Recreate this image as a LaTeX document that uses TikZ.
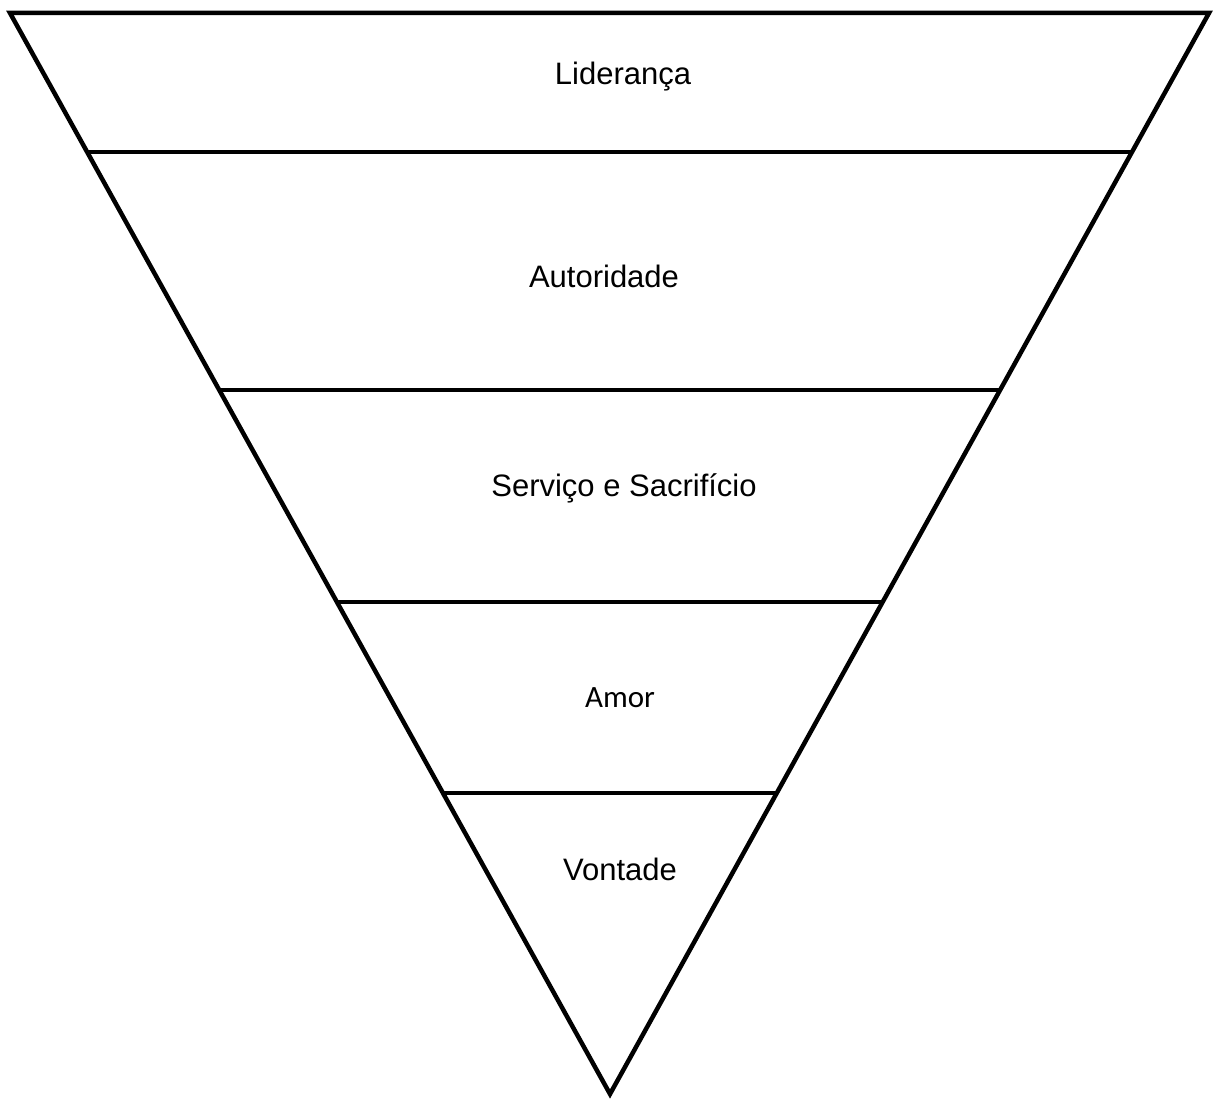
\documentclass[tikz,border=0pt]{standalone}
\usepackage{fontspec}
\setmainfont{Liberation Sans}
\newfontfamily\amorfont{Carlito}
\usetikzlibrary{calc,positioning}
\tikzset{
    %Define style for the funnel lines
    rand/.style={
           draw=black,
           line width=4.5pt,
           line join=miter},
    %Define style for the labels
    nivel/.style={
           font=\fontsize{31}{36}\selectfont,
           text centered,
           inner sep=0pt}
}
\begin{document}
\begin{tikzpicture}[x=1pt,y=-1pt]
\useasboundingbox (0,0) rectangle (1214,1099);
 %corners
\coordinate (tl) at (10,13);
\coordinate (tr) at (1209,13);
\coordinate (ap) at (610,1094);

 %ends of the dividing lines
\coordinate (l1) at ($(tl)!0.1286!(ap)$);
\coordinate (r1) at ($(tr)!0.1286!(ap)$);
\coordinate (l2) at ($(tl)!0.3488!(ap)$);
\coordinate (r2) at ($(tr)!0.3488!(ap)$);
\coordinate (l3) at ($(tl)!0.5449!(ap)$);
\coordinate (r3) at ($(tr)!0.5449!(ap)$);
\coordinate (l4) at ($(tl)!0.7216!(ap)$);
\coordinate (r4) at ($(tr)!0.7216!(ap)$);

\draw[rand] (tl) -- (tr) -- (ap) -- cycle;
\draw[rand] (l1) -- (r1);
\draw[rand] (l2) -- (r2);
\draw[rand] (l3) -- (r3);
\draw[rand] (l4) -- (r4);

 %labels
\node[nivel] (lid) at (623,77) {Liderança};
\node[nivel] (aut) at (604,276) {Autoridade};
\node[nivel] (ser) at (624,488) {Serviço e Sacrifício};
\node[nivel, font=\amorfont\fontsize{31}{36}\selectfont] (amo) at (620,698) {Amor};
\node[nivel] (von) at (620,869) {Vontade};
\end{tikzpicture}
\end{document}
